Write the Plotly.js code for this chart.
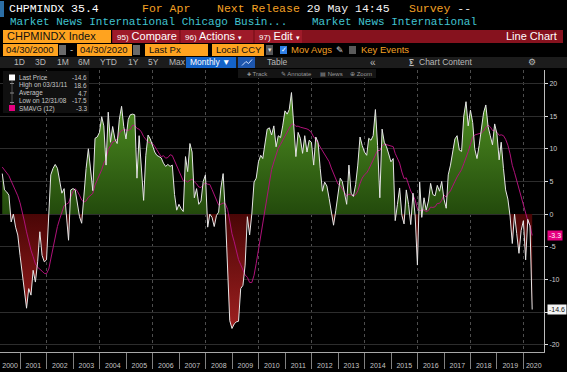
<!DOCTYPE html>
<html><head><meta charset="utf-8">
<script src="https://cdn.plot.ly/plotly-3.0.1.min.js"></script>
<style>html,body{margin:0;padding:0;background:#000;overflow:hidden}#chart{width:567px;height:372px}</style>
</head><body><div id="chart"></div>
<script>
// ---- data: CHPMINDX (shown as value - 50), monthly, Apr 2000 .. Apr 2020 ----
const firstYear = 2000, firstMonth = 4;
const v2000 = [6.2, 3.7, 3.4, 2.9, -1.2, 0.0, -2.0, -3.2, -6.3];
const v2001 = [-9.3, -12.4, -14.4, -11.4, -12.4, -8.6, -10.4, -7.3, -2.7, -6.3, -7.3, -7.0];
const v2002 = [-0.7, 6.0, 7.0, 7.6, 7.0, 4.9, 3.2, 3.9, -0.2, -4.0, 3.7, 3.9];
const v2003 = [3.7, 1.4, -0.4, -1.4, 3.4, 7.0, 10.0, 7.0, 3.6, 11.6, 11.8, 12.5];
const v2004 = [14.9, 13.5, 7.5, 15.6, 11.0, 13.4, 11.5, 10.8, 14.5, 16.5, 13.4, 11.5];
const v2005 = [14.5, 15.2, 15.3, 15.2, 5.5, 12.0, 6.5, 2.1, 9.0, 12.1, 11.5, 10.5];
const v2006 = [9.5, 9.0, 8.8, 8.6, 7.8, 7.3, 7.6, 7.3, 7.5, 3.0, 0.6, 1.5];
const v2007 = [0.8, 0.4, 8.8, 6.5, 10.8, 9.5, 2.5, 3.9, 1.5, 2.0, 5.0, 6.0];
const v2008 = [-2.0, 0.0, -0.5, -1.9, -0.2, 0.3, 4.0, 6.2, 0.2, -8.5, -16.3, -17.5];
const v2009 = [-16.8, -16.5, -16.4, -11.4, -10.9, -7.8, -0.4, -3.2, 0.0, 4.9, 5.5, 8.0];
const v2010 = [9.0, 8.5, 11.2, 13.0, 13.2, 12.1, 13.5, 10.3, 12.0, 11.7, 13.5, 15.8];
const v2011 = [15.3, 16.0, 18.6, 13.5, 8.8, 12.5, 11.6, 9.3, 12.0, 9.5, 11.3, 11.0];
const v2012 = [7.5, 11.8, 11.0, 7.0, 3.5, 4.9, 4.3, 2.4, 0.4, -1.7, 0.5, 3.5];
const v2013 = [5.5, 5.0, 3.0, 1.5, 7.5, 3.2, 2.7, 4.5, 7.5, 11.8, 10.5, 9.5];
const v2014 = [9.0, 11.6, 11.3, 12.0, 16.0, 10.5, 2.5, 13.0, 11.0, 10.3, 9.2, 8.0];
const v2015 = [8.5, -1.0, 1.5, 4.0, -0.2, -1.5, 3.7, 1.5, -1.6, 3.2, -0.3, -7.8];
const v2016 = [4.9, -0.5, 2.5, 0.6, 2.0, 4.7, 3.0, 2.8, 4.4, 3.5, 5.0, 2.3];
const v2017 = [0.9, 6.0, 7.5, 9.3, 11.5, 12.0, 9.8, 9.6, 15.0, 17.2, 13.5, 15.9];
const v2018 = [14.0, 10.0, 8.5, 10.5, 13.0, 15.5, 16.7, 13.4, 12.0, 10.6, 13.8, 12.3];
const v2019 = [8.3, 11.0, 7.0, 3.7, 2.3, -0.3, -4.5, 0.0, -3.0, -6.0, -2.5, -1.0];
const v2020 = [-7.0, -0.8, -1.8, -14.6];
// months before the window (May 1999 .. Mar 2000), only feed the 12-month average
const priorValues = [9.0, 8.5, 8.5, 8.4, 8.0, 7.5, 6.5, 6.5, 6.0, 5.8, 5.5];
const maWindow = 12;

const yearLabels = ['2000','2001','2002','2003','2004','2005','2006','2007','2008','2009','2010',
  '2011','2012','2013','2014','2015','2016','2017','2018','2019','2020'];
const yTickVals = [-20, -15, -10, -5, 0, 5, 10, 15, 20];
const yTickText = ['-20', '', '-10', '-5', '0', '5', '10', '15', '20']; // -15 hidden under the last-price tag
const legendRows = [
  ['Last Price', '-14.6'], ['High on 03/31/11', '18.6'], ['Average', '4.7'],
  ['Low on 12/31/08', '-17.5'], ['SMAVG (12)', '-3.3']];

// ---- build series ----
const values = [].concat(v2000, v2001, v2002, v2003, v2004, v2005, v2006, v2007, v2008, v2009,
  v2010, v2011, v2012, v2013, v2014, v2015, v2016, v2017, v2018, v2019, v2020);
function pad(n){return (n<10?'0':'')+n;}
const dates = values.map((_, i) => {
  const mIdx = firstMonth - 1 + i;
  const y = firstYear + Math.floor(mIdx / 12), mo = mIdx % 12 + 1;
  const d = new Date(Date.UTC(y, mo, 0));
  return d.getUTCFullYear() + '-' + pad(d.getUTCMonth() + 1) + '-' + pad(d.getUTCDate());
});
const allVals = priorValues.concat(values);
const ma = values.map((_, i) => {
  const end = i + priorValues.length;
  let s = 0; for (let k = end - maWindow + 1; k <= end; k++) s += allVals[k];
  return s / maWindow;
});
function toMs(d){return Date.parse(d + 'T00:00:00Z');}
function fmt(ms){return new Date(ms).toISOString().slice(0,19).replace('T',' ');}
const posX=[], posY=[], negX=[], negY=[];
for (let i = 0; i < values.length; i++) {
  const v = values[i];
  if (i > 0) {
    const v0 = values[i-1];
    if ((v0 > 0 && v < 0) || (v0 < 0 && v > 0)) {
      const t0 = toMs(dates[i-1]), t1 = toMs(dates[i]);
      const tc = fmt(t0 + (t1 - t0) * v0 / (v0 - v));
      posX.push(tc); posY.push(0); negX.push(tc); negY.push(0);
    }
  }
  posX.push(dates[i]); posY.push(Math.max(v, 0));
  negX.push(dates[i]); negY.push(Math.min(v, 0));
}

const xRange = ['2000-03-30', '2020-10-10'];
const rs = toMs(xRange[0]), re = toMs(xRange[1]);
const evenYears = [], allYears = [], midYears = [];
for (let y = 2000; y <= 2020; y++) {
  if (y > 2000) allYears.push(y + '-01-01');
  if (y > 2000 && y % 2 === 0) evenYears.push(y + '-01-01');
  // label centred on the visible part of each year
  const a = Math.max(toMs(y + '-01-01'), rs), b = Math.min(toMs((y + 1) + '-01-01'), re);
  midYears.push(fmt((a + b) / 2));
}

const traces = [
  {x: posX, y: posY, mode: 'lines', line: {width: 0}, fill: 'tozeroy',
   fillgradient: {type: 'vertical', start: 0, stop: 18, colorscale: [[0, '#234a0c'], [1, '#4f9022']]},
   hoverinfo: 'skip'},
  {x: negX, y: negY, mode: 'lines', line: {width: 0}, fill: 'tozeroy',
   fillgradient: {type: 'vertical', start: -18, stop: 0, colorscale: [[0, '#a02020'], [1, '#4a0606']]},
   hoverinfo: 'skip'},
  {x: dates, y: ma, mode: 'lines', line: {color: '#b0127a', width: 1}, hoverinfo: 'skip'},
  {x: dates, y: values, mode: 'lines', line: {color: '#e6e6e6', width: 1}, hoverinfo: 'skip'},
  {x: [dates[0]], y: [0], xaxis: 'x2', mode: 'markers', marker: {opacity: 0}, hoverinfo: 'skip'},
  {x: [dates[0]], y: [0], xaxis: 'x3', mode: 'markers', marker: {opacity: 0}, hoverinfo: 'skip'}
];

// ---- pixel helpers for the terminal chrome ----
const PW = 544, PH = 282, PT = 70;
const px = x => x / PW, py = y => (PT + PH - y) / PH;
const shapes = [], ann = [];
function rect(x0, y0, x1, y1, color, line){
  shapes.push({type: 'rect', xref: 'paper', yref: 'paper', x0: px(x0), x1: px(x1), y0: py(y1), y1: py(y0),
    fillcolor: color, line: line || {width: 0}, layer: 'above'});
}
function seg(x0, y0, x1, y1, color){
  shapes.push({type: 'line', xref: 'paper', yref: 'paper', x0: px(x0), x1: px(x1), y0: py(y0), y1: py(y1),
    line: {color: color, width: 1}, layer: 'above'});
}
function txt(x, y, text, size, color, family, anchor){
  ann.push({xref: 'paper', yref: 'paper', x: px(x), y: py(y), text: text, showarrow: false,
    xanchor: anchor || 'left', yanchor: 'middle', borderpad: 0,
    font: {size: size, color: color, family: family || 'Liberation Sans, Arial, sans-serif'}});
}
const MONO = 'Liberation Mono, DejaVu Sans Mono, monospace';
const ORANGE = '#f3a124', CYAN = '#41c3d1';

// row 1
rect(0, 1, 4, 17, '#2b6ea6');
txt(8, 9, 'CHPMINDX 35.4', 11.5, '#ffffff', MONO);
txt(141, 9, 'For Apr', 11.5, ORANGE, MONO);
txt(216, 9, 'Next Release <span style="color:#f2f2f2">29 May 14:45</span>', 11.5, ORANGE, MONO);
txt(408, 9, 'Survey <span style="color:#f2f2f2">--</span>', 11.5, ORANGE, MONO);
// row 2
txt(9, 22, 'Market News International Chicago Busin...', 11, CYAN, MONO);
txt(311, 22, 'Market News International', 11, CYAN, MONO);
// row 3
rect(3, 30, 111, 43, '#ffa31f');
txt(6, 36.5, 'CHPMINDX Index', 11, '#111111');
rect(112, 30, 563, 43, '#86121e');
rect(113, 30, 179, 43, '#9e1a29');
rect(181, 30, 253, 43, '#9e1a29');
rect(255, 30, 302, 43, '#9e1a29');
txt(116, 36.5, '<span style="font-size:8px">95)</span> Compare', 11, '#ffffff');
txt(184, 36.5, '<span style="font-size:8px">96)</span> Actions <span style="font-size:7px">\u25BE</span>', 11, '#ffffff');
txt(258, 36.5, '<span style="font-size:8px">97)</span> Edit <span style="font-size:7px">\u25BE</span>', 11, '#ffffff');
txt(558, 36.5, 'Line Chart', 11, '#ffffff', null, 'right');
// row 4
rect(3, 44, 58, 56, '#ffa31f'); txt(5, 50, '04/30/2000', 9.5, '#111');
rect(59, 45, 66, 55, '#6a6a6a');
txt(69, 50, '-', 9.5, '#cccccc');
rect(77, 44, 132, 56, '#ffa31f'); txt(79, 50, '04/30/2020', 9.5, '#111');
rect(133, 45, 140, 55, '#6a6a6a');
rect(145, 44, 208, 56, '#ffa31f'); txt(148, 50, 'Last Px', 9.5, '#111');
rect(212, 44, 264, 56, '#ffa31f'); txt(215, 50, 'Local CCY', 9.5, '#111');
rect(266, 45, 273, 55, '#555555'); txt(269.5, 50, '\u25BE', 7, '#ddd', null, 'center');
rect(280, 46, 287, 54, '#2f7fe6'); txt(283.5, 50, '\u2713', 7, '#fff', null, 'center');
txt(290, 50, 'Mov Avgs', 9.5, ORANGE);
txt(335, 50, '\u270E', 9, '#dddddd');
rect(349, 46, 356, 54, '#5a5a5a');
txt(360, 50, 'Key Events', 9.5, ORANGE);
// row 5
rect(0, 57, 567, 68, '#1c1c1c');
[['1D',13],['3D',34],['1M',56],['6M',77],['YTD',99],['1Y',127],['5Y',147],['Max',168]].forEach(p =>
  txt(p[1], 62.5, p[0], 8.5, '#b9b9b9'));
rect(186, 57, 236, 68, '#1463c8'); txt(189, 62.5, 'Monthly \u25BC', 8.5, '#ffffff');
rect(238, 57, 255, 68, '#1d56ad');
shapes.push({type: 'path', xref: 'paper', yref: 'paper', layer: 'above',
  path: 'M' + px(242) + ',' + py(65.5) + ' L' + px(246) + ',' + py(61.5) + ' L' + px(248.5) + ',' + py(63.5) + ' L' + px(252) + ',' + py(59.5),
  line: {color: '#cfe0ff', width: 1}});
txt(266, 62.5, 'Table', 8.5, '#b9b9b9');
txt(369, 62.5, '\u00AB', 10, '#b9b9b9');
txt(408, 62.5, '\u2A0A', 8, '#b9b9b9');
txt(418, 62.5, 'Chart Content', 8.5, '#b9b9b9');
txt(532, 62.5, '\u2699', 9, '#b9b9b9', null, 'center');
// chart toolbar
rect(238, 69, 376, 78, '#141414');
txt(246, 73.5, '<span style="font-size:5px">\u271A</span> Track', 6, '#9a9a9a');
txt(280, 73.5, '\u270E Annotate', 6, '#9a9a9a');
txt(319, 73.5, '\u25A4 News', 6, '#9a9a9a');
txt(349, 73.5, '\u2295 Zoom', 6, '#9a9a9a');
// legend box
rect(3, 71, 89, 113, '#101010');
rect(9, 74.5, 15, 80.5, '#ffffff');
seg(12, 81, 12, 104, '#555');
seg(10, 83.5, 14, 83.5, '#888'); seg(10, 93, 14, 93, '#888'); seg(10, 102.5, 14, 102.5, '#888');
rect(9, 105, 15, 111, '#e5007f');
legendRows.forEach((r, i) => {
  const yy = 77.5 + i * 7.8;
  txt(18, yy, r[0], 6.4, '#c8c8c8');
  txt(88, yy, r[1], 6.4, '#c8c8c8', null, 'right');
});
// right-side value tags
const lastVal = values[values.length - 1], lastMa = ma[ma.length - 1];
ann.push({xref: 'paper', yref: 'y', x: px(547), y: lastMa, text: lastMa.toFixed(1), showarrow: false,
  xanchor: 'left', yanchor: 'middle', bgcolor: '#e5007f', borderpad: 1,
  font: {size: 7, color: '#ffffff', family: 'Liberation Sans, Arial, sans-serif'}});
ann.push({xref: 'paper', yref: 'y', x: px(547), y: lastVal, text: lastVal.toFixed(1), showarrow: false,
  xanchor: 'left', yanchor: 'middle', bgcolor: '#f4f4f4', borderpad: 1,
  font: {size: 7, color: '#111111', family: 'Liberation Sans, Arial, sans-serif'}});

const layout = {
  width: 567, height: 372, paper_bgcolor: '#000', plot_bgcolor: '#000', showlegend: false,
  margin: {l: 0, r: 23, t: 70, b: 20, pad: 0},
  xaxis: {type: 'date', range: xRange, tickvals: evenYears, showticklabels: false, ticks: '',
    showgrid: true, gridcolor: '#4d4d4d', griddash: 'dot', gridwidth: 1, zeroline: false,
    showline: true, linecolor: '#a8a8a8', linewidth: 1, fixedrange: true},
  xaxis2: {type: 'date', range: xRange, overlaying: 'x', anchor: 'y', side: 'bottom',
    tickvals: allYears, showticklabels: false, ticks: 'outside', ticklen: 16, tickwidth: 1,
    tickcolor: '#808080', showgrid: false, zeroline: false, showline: false},
  xaxis3: {type: 'date', range: xRange, overlaying: 'x', anchor: 'y', side: 'bottom',
    tickvals: midYears, ticktext: yearLabels, ticks: 'outside', ticklen: 7, tickcolor: 'rgba(0,0,0,0)',
    ticklabeloverflow: 'allow',
    tickfont: {size: 7, color: '#c4c4c4', family: 'Liberation Sans, Arial, sans-serif'},
    showgrid: false, zeroline: false, showline: false},
  yaxis: {side: 'right', range: [-21.1, 22.05], tickvals: yTickVals, ticktext: yTickText,
    ticks: 'outside', ticklen: 3, tickcolor: '#dddddd',
    tickfont: {size: 7, color: '#cfcfcf', family: 'Liberation Sans, Arial, sans-serif'},
    showgrid: true, gridcolor: '#2d2d2d', gridwidth: 1, zeroline: false,
    showline: true, linecolor: '#bdbdbd', linewidth: 1, fixedrange: true},
  shapes: shapes, annotations: ann
};
Plotly.newPlot('chart', traces, layout, {staticPlot: true, displayModeBar: false});
</script></body></html>
